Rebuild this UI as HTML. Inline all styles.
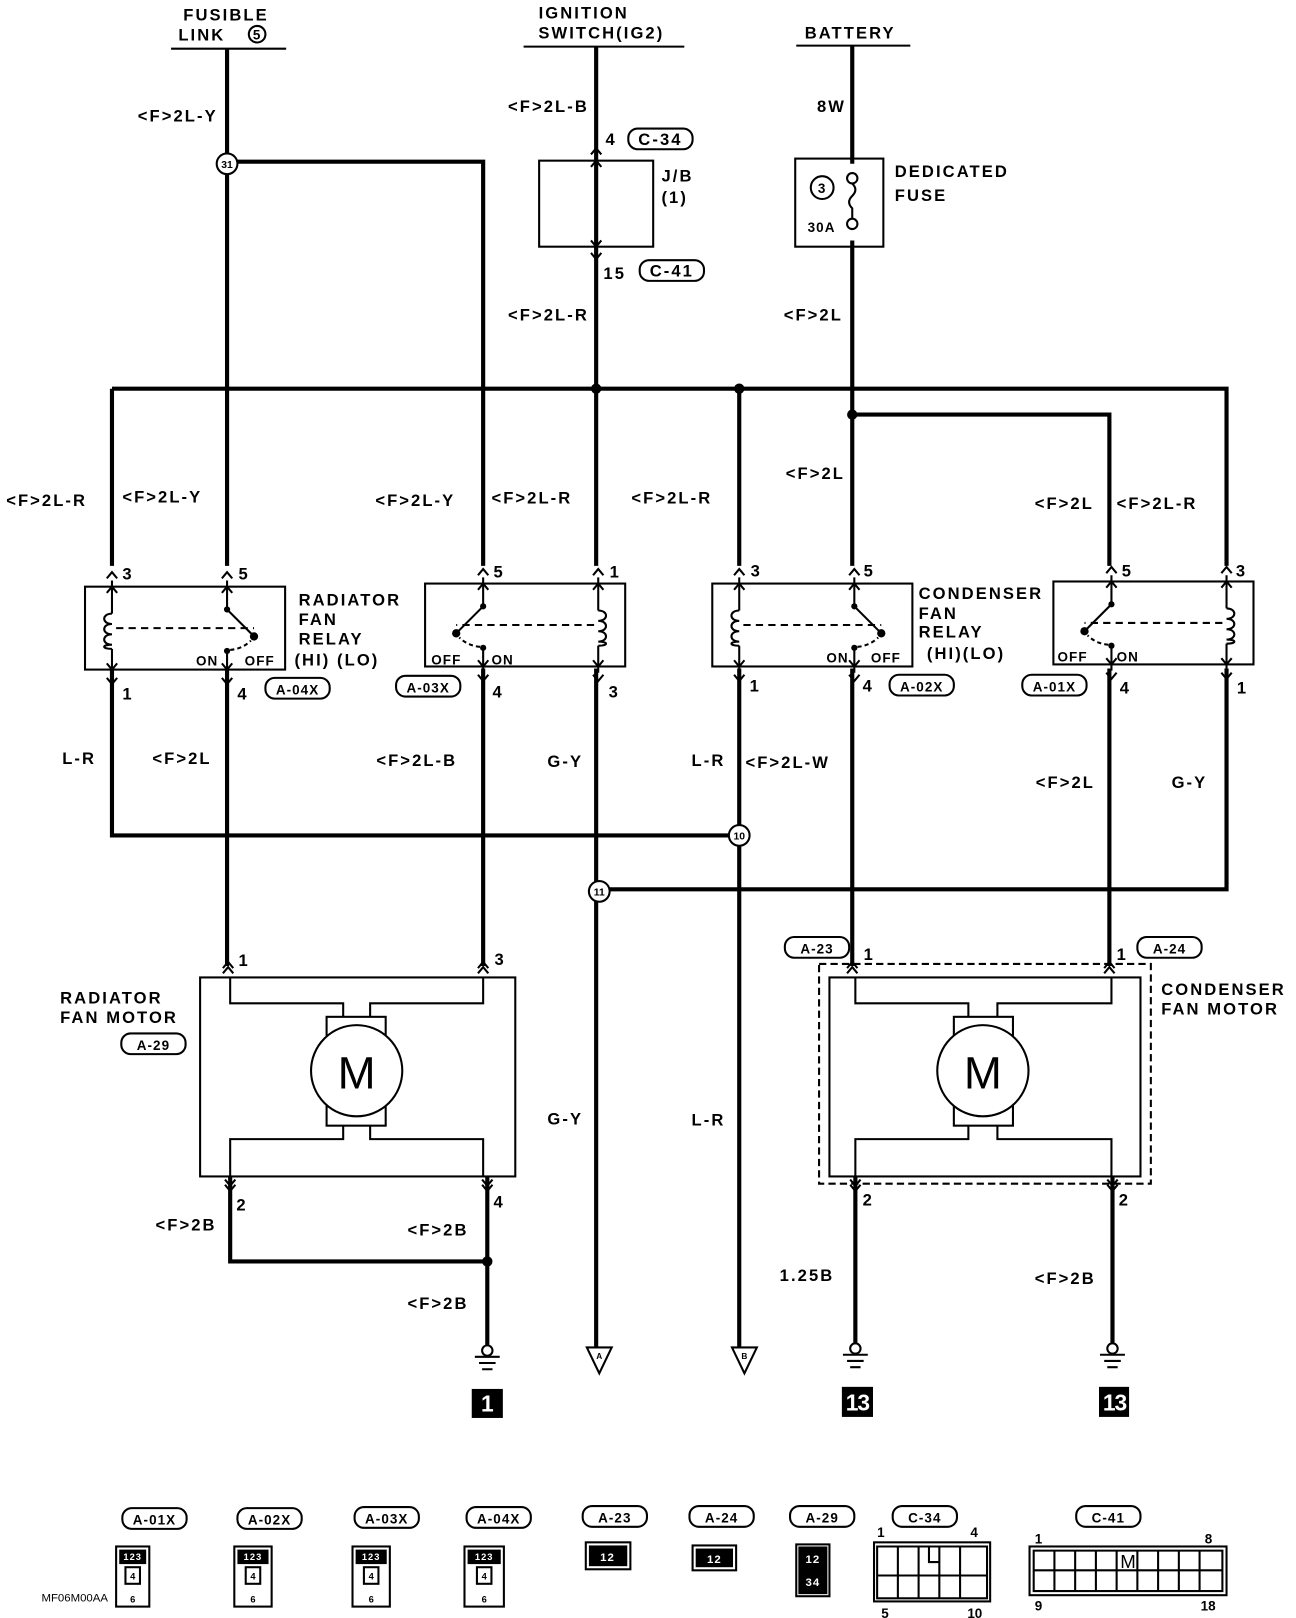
<!DOCTYPE html>
<html><head><meta charset="utf-8"><style>
html,body{margin:0;padding:0;background:#fff}
svg{display:block}
text{font-family:"Liberation Sans",sans-serif;font-weight:bold;fill:#000;font-size:16px;letter-spacing:2px}
.s{font-size:13px;letter-spacing:1px}
.w{stroke:#000;stroke-width:4;fill:none}
.t{stroke:#000;stroke-width:2;fill:none}
</style></head><body>
<svg width="1296" height="1618" viewBox="0 0 1250 1561" preserveAspectRatio="none" xmlns="http://www.w3.org/2000/svg">
<defs>
<g id="rl">
 <rect x="-26" y="0" width="193" height="80" class="t"/>
 <path class="t" d="M0,-6 V26 M0,60 V86 M111,-6 V22 L137,48 M111,62 V86"/>
 <path class="t" d="M0,26 c-10,0 -10,10 0,10 c-10,0 -10,10 0,10 c-10,0 -10,10 0,10 c-10,0 -10,4 0,4"/>
 <circle cx="111" cy="22" r="3"/><circle cx="137" cy="48" r="4"/><circle cx="111" cy="62" r="3"/>
 <path d="M4,40 H137" stroke="#000" stroke-width="2" stroke-dasharray="7,5"/>
 <path d="M114,61 Q126,60 134,52" stroke="#000" stroke-width="2" stroke-dasharray="4,3" fill="none"/>
 <path class="t" d="M-5,-8 L0,-14 L5,-8 M-5,6 L0,0 L5,6 M106,-8 L111,-14 L116,-8 M106,6 L111,0 L116,6 M-5,74 L0,80 L5,74 M-5,88 L0,94 L5,88 M106,74 L111,80 L116,74 M106,88 L111,94 L116,88"/>
</g>
<g id="tg"><rect x="0" y="0" width="62" height="20" rx="9" class="t"/></g>
<g id="gnd"><circle cx="0" cy="0" r="5" fill="#fff" stroke="#000" stroke-width="2"/><path class="t" d="M-12,6 H12 M-8,12 H8 M-5,18 H5"/></g>
</defs>

<!-- top headers -->
<text x="218" y="20" text-anchor="middle">FUSIBLE</text>
<text x="172" y="39">LINK</text><circle cx="248" cy="33" r="8" class="t"/><text x="248" y="38" class="s" text-anchor="middle">5</text>
<path class="t" d="M165,47 H276"/>
<text x="563" y="18" text-anchor="middle">IGNITION</text>
<text x="580" y="37" text-anchor="middle">SWITCH(IG2)</text>
<path class="t" d="M505,45 H660"/>
<text x="820" y="37" text-anchor="middle">BATTERY</text>
<path class="t" d="M768,44 H878"/>

<!-- wires -->
<path class="w" d="M219,47 V546 M219,645 V932 M219,156 H466 V546 M466,645 V932"/>
<path class="w" d="M575,45 V546 M575,645 V1300"/>
<path class="w" d="M822,44 V158 M822,232 V546 M822,645 V932"/>
<path class="w" d="M108,375 H1183 V546 M108,375 V546 M108,645 V806 H713 M713,375 V546 M713,645 V1300"/>
<path class="w" d="M822,400 H1070 V546 M1070,645 V932 M578,858 H1183 V645"/>
<circle cx="575" cy="375" r="5"/><circle cx="713" cy="375" r="5"/><circle cx="822" cy="400" r="5"/>

<text x="210" y="117" text-anchor="end">&lt;F&gt;2L-Y</text>
<text x="568" y="108" text-anchor="end">&lt;F&gt;2L-B</text>
<text x="816" y="108" text-anchor="end">8W</text>
<text x="584" y="140">4</text><use href="#tg" x="606" y="124"/><text x="637" y="140" text-anchor="middle">C-34</text>
<rect x="520" y="155" width="110" height="83" class="t"/>
<path class="t" d="M570,149 L575,143 L580,149 M570,161 L575,155 L580,161 M570,232 L575,238 L580,232 M570,244 L575,250 L580,244"/>
<text x="638" y="175">J/B</text><text x="638" y="196">(1)</text>
<text x="582" y="269">15</text><use href="#tg" x="617" y="251"/><text x="648" y="267" text-anchor="middle">C-41</text>
<rect x="767" y="153" width="85" height="85" class="t"/>
<circle cx="793" cy="181" r="11" class="t"/><text x="793" y="186" class="s" text-anchor="middle">3</text>
<text x="779" y="224" class="s">30A</text>
<circle cx="822" cy="172" r="5" fill="#fff" stroke="#000" stroke-width="2"/><circle cx="822" cy="216" r="5" fill="#fff" stroke="#000" stroke-width="2"/>
<path class="t" d="M822,177 q6,6 0,12 q-6,6 0,12 v10"/>
<text x="863" y="171">DEDICATED</text><text x="863" y="194">FUSE</text>
<text x="568" y="309" text-anchor="end">&lt;F&gt;2L-R</text>
<text x="813" y="309" text-anchor="end">&lt;F&gt;2L</text>
<text x="815" y="462" text-anchor="end">&lt;F&gt;2L</text>

<text x="6" y="488">&lt;F&gt;2L-R</text><text x="118" y="485">&lt;F&gt;2L-Y</text>
<text x="362" y="488">&lt;F&gt;2L-Y</text><text x="474" y="486">&lt;F&gt;2L-R</text>
<text x="609" y="486">&lt;F&gt;2L-R</text>
<text x="998" y="491">&lt;F&gt;2L</text><text x="1077" y="491">&lt;F&gt;2L-R</text>

<!-- relays -->
<use href="#rl" transform="translate(108,566)"/>
<use href="#rl" transform="translate(577,563) scale(-1,1)"/>
<use href="#rl" transform="translate(713,563)"/>
<use href="#rl" transform="translate(1183,561) scale(-1,1)"/>
<text x="118" y="559">3</text><text x="230" y="559">5</text>
<text x="476" y="557">5</text><text x="588" y="557">1</text>
<text x="724" y="556">3</text><text x="833" y="556">5</text>
<text x="1082" y="556">5</text><text x="1192" y="556">3</text>
<text x="118" y="675">1</text><text x="229" y="675">4</text>
<text x="475" y="673">4</text><text x="587" y="673">3</text>
<text x="723" y="667">1</text><text x="832" y="667">4</text>
<text x="1080" y="669">4</text><text x="1193" y="669">1</text>
<text x="189" y="642" class="s">ON</text><text x="236" y="642" class="s">OFF</text>
<text x="416" y="641" class="s">OFF</text><text x="474" y="641" class="s">ON</text>
<text x="797" y="639" class="s">ON</text><text x="840" y="639" class="s">OFF</text>
<text x="1020" y="638" class="s">OFF</text><text x="1077" y="638" class="s">ON</text>
<use href="#tg" x="256" y="654"/><text x="287" y="670" text-anchor="middle" class="s">A-04X</text>
<use href="#tg" x="382" y="652"/><text x="413" y="668" text-anchor="middle" class="s">A-03X</text>
<use href="#tg" x="858" y="651"/><text x="889" y="667" text-anchor="middle" class="s">A-02X</text>
<use href="#tg" x="986" y="651"/><text x="1017" y="667" text-anchor="middle" class="s">A-01X</text>
<text x="288" y="584">RADIATOR</text><text x="288" y="603">FAN</text><text x="288" y="622">RELAY</text><text x="284" y="642">(HI) (LO)</text>
<text x="886" y="578">CONDENSER</text><text x="886" y="597">FAN</text><text x="886" y="615">RELAY</text><text x="894" y="636">(HI)(LO)</text>

<text x="60" y="737">L-R</text><text x="147" y="737">&lt;F&gt;2L</text><text x="363" y="739">&lt;F&gt;2L-B</text>
<text x="528" y="740">G-Y</text><text x="667" y="739">L-R</text><text x="719" y="741">&lt;F&gt;2L-W</text>
<text x="999" y="760">&lt;F&gt;2L</text><text x="1130" y="760">G-Y</text>

<!-- splices -->
<circle cx="219" cy="158" r="10" fill="#fff" stroke="#000" stroke-width="2"/><text x="219" y="162" font-size="10" text-anchor="middle" style="letter-spacing:0;font-size:10px">31</text>
<circle cx="713" cy="806" r="10" fill="#fff" stroke="#000" stroke-width="2"/><text x="713" y="810" text-anchor="middle" style="letter-spacing:0;font-size:10px">10</text>
<circle cx="578" cy="860" r="10" fill="#fff" stroke="#000" stroke-width="2"/><text x="578" y="864" text-anchor="middle" style="letter-spacing:0;font-size:10px">11</text>

<!-- radiator motor -->
<rect x="193" y="943" width="304" height="192" class="t"/>
<path class="t" d="M222,943 V968 H331 V981 M466,943 V968 H357 V981 M331,1086 V1099 H222 V1135 M357,1086 V1099 H466 V1135"/>
<rect x="315" y="981" width="57" height="105" class="t"/>
<circle cx="344" cy="1033" r="44" fill="#fff" stroke="#000" stroke-width="2"/>
<text x="344" y="1050" text-anchor="middle" style="font-weight:normal;font-size:44px;letter-spacing:0">M</text>
<path class="t" d="M215,934 L220,928 L225,934 M215,939 L220,933 L225,939 M461,934 L466,928 L471,934 M461,939 L466,933 L471,939 M217,1138 L222,1144 L227,1138 M217,1143 L222,1149 L227,1143 M465,1138 L470,1144 L475,1138 M465,1143 L470,1149 L475,1143"/>
<text x="230" y="932">1</text><text x="477" y="931">3</text>
<text x="228" y="1168">2</text><text x="476" y="1165">4</text>
<text x="58" y="968">RADIATOR</text><text x="58" y="987">FAN MOTOR</text>
<use href="#tg" x="117" y="997"/><text x="148" y="1013" text-anchor="middle" class="s">A-29</text>
<path class="w" d="M222,1135 V1217 H470 M470,1135 V1300"/><circle cx="470" cy="1217" r="5"/>
<text x="150" y="1187">&lt;F&gt;2B</text><text x="393" y="1192">&lt;F&gt;2B</text><text x="393" y="1263">&lt;F&gt;2B</text>
<text x="528" y="1085">G-Y</text><text x="667" y="1086">L-R</text>

<!-- condenser motor -->
<rect x="790" y="930" width="320" height="212" class="t" stroke-dasharray="7,4"/>
<rect x="800" y="943" width="300" height="192" class="t"/>
<path class="t" d="M825,943 V968 H934 V981 M1072,943 V968 H962 V981 M934,1086 V1099 H825 V1135 M962,1086 V1099 H1072 V1135"/>
<rect x="920" y="981" width="57" height="105" class="t"/>
<circle cx="948" cy="1033" r="44" fill="#fff" stroke="#000" stroke-width="2"/>
<text x="948" y="1050" text-anchor="middle" style="font-weight:normal;font-size:44px;letter-spacing:0">M</text>
<path class="t" d="M817,934 L822,928 L827,934 M817,939 L822,933 L827,939 M1065,934 L1070,928 L1075,934 M1065,939 L1070,933 L1075,939 M820,1138 L825,1144 L830,1138 M820,1143 L825,1149 L830,1143 M1068,1138 L1073,1144 L1078,1138 M1068,1143 L1073,1149 L1078,1143"/>
<path class="w" d="M825,1135 V1300 M1073,1135 V1300"/>
<use href="#tg" x="757" y="904"/><text x="788" y="920" text-anchor="middle" class="s">A-23</text>
<text x="833" y="926">1</text><text x="1077" y="926">1</text>
<use href="#tg" x="1097" y="904"/><text x="1128" y="920" text-anchor="middle" class="s">A-24</text>
<text x="1120" y="960">CONDENSER</text><text x="1120" y="979">FAN MOTOR</text>
<text x="832" y="1163">2</text><text x="1079" y="1163">2</text>
<text x="752" y="1236">1.25B</text><text x="998" y="1239">&lt;F&gt;2B</text>

<!-- grounds & terminals -->
<use href="#gnd" x="470" y="1303"/><use href="#gnd" x="825" y="1301"/><use href="#gnd" x="1073" y="1301"/>
<rect x="455" y="1340" width="30" height="28"/><text x="470" y="1362" text-anchor="middle" style="fill:#fff;font-size:22px;letter-spacing:0">1</text>
<rect x="812" y="1338" width="30" height="29"/><text x="827" y="1361" text-anchor="middle" style="fill:#fff;font-size:22px;letter-spacing:-1px">13</text>
<rect x="1060" y="1338" width="29" height="29"/><text x="1075" y="1361" text-anchor="middle" style="fill:#fff;font-size:22px;letter-spacing:-1px">13</text>
<path class="t" d="M566,1300 H590 L578,1325 Z M706,1300 H730 L718,1325 Z"/>
<text x="578" y="1311" text-anchor="middle" style="font-size:8px;letter-spacing:0">A</text>
<text x="718" y="1311" text-anchor="middle" style="font-size:8px;letter-spacing:0">B</text>

<!-- bottom connectors -->
<g class="s">
<use href="#tg" x="118" y="1455"/><text x="149" y="1471" text-anchor="middle" class="s">A-01X</text>
<use href="#tg" x="229" y="1455"/><text x="260" y="1471" text-anchor="middle" class="s">A-02X</text>
<use href="#tg" x="342" y="1454"/><text x="373" y="1470" text-anchor="middle" class="s">A-03X</text>
<use href="#tg" x="450" y="1454"/><text x="481" y="1470" text-anchor="middle" class="s">A-04X</text>
<use href="#tg" x="562" y="1453"/><text x="593" y="1469" text-anchor="middle" class="s">A-23</text>
<use href="#tg" x="665" y="1453"/><text x="696" y="1469" text-anchor="middle" class="s">A-24</text>
<use href="#tg" x="762" y="1453"/><text x="793" y="1469" text-anchor="middle" class="s">A-29</text>
<use href="#tg" x="861" y="1453"/><text x="892" y="1469" text-anchor="middle" class="s">C-34</text>
<use href="#tg" x="1038" y="1453"/><text x="1069" y="1469" text-anchor="middle" class="s">C-41</text>
</g>
<g class="t">
<rect x="112" y="1492" width="32" height="58"/><rect x="116" y="1496" width="24" height="12" fill="#000"/><rect x="121" y="1512" width="14" height="16"/>
<rect x="226" y="1492" width="36" height="58"/><rect x="230" y="1496" width="28" height="12" fill="#000"/><rect x="237" y="1512" width="14" height="16"/>
<rect x="340" y="1492" width="36" height="58"/><rect x="344" y="1496" width="28" height="12" fill="#000"/><rect x="351" y="1512" width="14" height="16"/>
<rect x="448" y="1492" width="38" height="58"/><rect x="452" y="1496" width="30" height="12" fill="#000"/><rect x="460" y="1512" width="14" height="16"/>
<rect x="565" y="1488" width="43" height="26"/><rect x="569" y="1492" width="35" height="18" fill="#000"/>
<rect x="668" y="1491" width="42" height="24"/><rect x="672" y="1495" width="34" height="16" fill="#000"/>
<rect x="768" y="1490" width="32" height="50"/><rect x="771" y="1493" width="26" height="44" fill="#000"/>
<rect x="843" y="1488" width="112" height="57"/>
<path d="M846,1492 H952 V1542 H846 Z M846,1520 H952 M866,1492 V1542 M886,1492 V1542 M906,1492 V1542 M926,1492 V1542 M896,1492 V1507 H906"/>
<rect x="993" y="1492" width="190" height="47"/>
<path d="M997,1496 H1179 V1535 H997 Z M997,1515 H1179 M1017,1496 V1535 M1037,1496 V1535 M1057,1496 V1535 M1077,1496 V1535 M1097,1496 V1535 M1117,1496 V1535 M1137,1496 V1535 M1157,1496 V1535"/>
</g>
<text x="128" y="1505" text-anchor="middle" style="fill:#fff;font-size:9px;letter-spacing:1px">123</text>
<text x="244" y="1505" text-anchor="middle" style="fill:#fff;font-size:9px;letter-spacing:1px">123</text>
<text x="358" y="1505" text-anchor="middle" style="fill:#fff;font-size:9px;letter-spacing:1px">123</text>
<text x="467" y="1505" text-anchor="middle" style="fill:#fff;font-size:9px;letter-spacing:1px">123</text>
<text x="128" y="1524" text-anchor="middle" style="font-size:9px;letter-spacing:0">4</text><text x="128" y="1546" text-anchor="middle" style="font-size:9px;letter-spacing:0">6</text>
<text x="244" y="1524" text-anchor="middle" style="font-size:9px;letter-spacing:0">4</text><text x="244" y="1546" text-anchor="middle" style="font-size:9px;letter-spacing:0">6</text>
<text x="358" y="1524" text-anchor="middle" style="font-size:9px;letter-spacing:0">4</text><text x="358" y="1546" text-anchor="middle" style="font-size:9px;letter-spacing:0">6</text>
<text x="467" y="1524" text-anchor="middle" style="font-size:9px;letter-spacing:0">4</text><text x="467" y="1546" text-anchor="middle" style="font-size:9px;letter-spacing:0">6</text>
<text x="586" y="1506" text-anchor="middle" style="fill:#fff;font-size:11px;letter-spacing:1px">12</text>
<text x="689" y="1508" text-anchor="middle" style="fill:#fff;font-size:11px;letter-spacing:1px">12</text>
<text x="784" y="1508" text-anchor="middle" style="fill:#fff;font-size:11px;letter-spacing:1px">12</text>
<text x="784" y="1530" text-anchor="middle" style="fill:#fff;font-size:11px;letter-spacing:1px">34</text>
<text x="846" y="1483" style="font-size:13px;letter-spacing:0">1</text><text x="936" y="1483" style="font-size:13px;letter-spacing:0">4</text>
<text x="850" y="1561" style="font-size:13px;letter-spacing:0">5</text><text x="933" y="1561" style="font-size:13px;letter-spacing:0">10</text>
<text x="998" y="1489" style="font-size:13px;letter-spacing:0">1</text><text x="1162" y="1489" style="font-size:13px;letter-spacing:0">8</text>
<text x="998" y="1554" style="font-size:13px;letter-spacing:0">9</text><text x="1158" y="1554" style="font-size:13px;letter-spacing:0">18</text>
<text x="1088" y="1513" text-anchor="middle" style="font-weight:normal;font-size:18px;letter-spacing:0">M</text>
<text x="40" y="1545" style="font-weight:normal;font-size:11px;letter-spacing:0">MF06M00AA</text>
</svg>
</body></html>
